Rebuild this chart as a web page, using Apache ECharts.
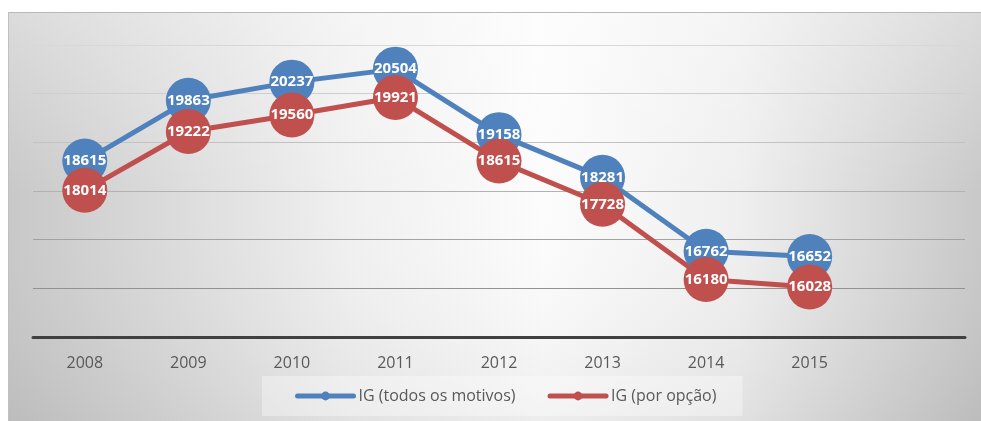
<!DOCTYPE html>
<html lang="pt">
	<head>
		<meta charset="UTF-8" />
		<title>IG</title>
		<script src="https://cdn.jsdelivr.net/npm/echarts@6/dist/echarts.min.js"></script>
		<style>
			* {
				margin: 0;
				padding: 0;
			}
			html,
			body {
				height: 100%;
				background: #fff;
			}
		</style>
	</head>
	<body>
		<div id="main" style="width:981px;height:421px;"></div>

		<script type="text/javascript">
			// dados
			var anos = ["2008", "2009", "2010", "2011", "2012", "2013", "2014", "2015", ""];
			var igTodos = [18615, 19863, 20237, 20504, 19158, 18281, 16762, 16652];
			var igOpcao = [18014, 19222, 19560, 19921, 18615, 17728, 16180, 16028];
			var nomes = ["IG (todos os motivos)", "IG (por opção)"];

			var fonte = "'Open Sans', 'Noto Sans', sans-serif";

			function serie(nome, dados, cor) {
				return {
					name: nome,
					type: "line",
					data: dados,
					symbol: "circle",
					symbolSize: 45,
					lineStyle: { width: 5, color: cor },
					itemStyle: { color: cor },
					label: {
						show: true,
						position: "inside",
						color: "#fff",
						fontWeight: "bold",
						fontSize: 15,
						fontFamily: fonte
					},
					emphasis: { disabled: true }
				};
			}

			var myChart = echarts.init(document.getElementById("main"));
			var option = {
				animation: false,
				color: ["#4f81bd", "#c0504d"],
				graphic: [
					{
						type: "rect",
						z: -10,
						shape: { x: 8, y: 12, width: 973, height: 409 },
						style: {
							fill: {
								type: "linear",
								x: 0,
								y: 0,
								x2: 1,
								y2: 0,
								colorStops: [
									{ offset: 0, color: "#c8c8c8" },
									{ offset: 0.35, color: "#f0f0f0" },
									{ offset: 0.55, color: "#fcfcfc" },
									{ offset: 0.75, color: "#efefef" },
									{ offset: 1, color: "#c8c8c8" }
								]
							}
						}
					},
					{
						type: "rect",
						z: -9,
						shape: { x: 8, y: 12, width: 973, height: 409 },
						style: {
							fill: {
								type: "linear",
								x: 0,
								y: 0,
								x2: 0,
								y2: 1,
								colorStops: [
									{ offset: 0, color: "rgba(255,255,255,0.35)" },
									{ offset: 0.45, color: "rgba(255,255,255,0)" },
									{ offset: 1, color: "rgba(0,0,0,0.06)" }
								]
							}
						}
					},
					{
						type: "line",
						z: -8,
						shape: { x1: 8, y1: 12.5, x2: 981, y2: 12.5 },
						style: { stroke: "#b8b8b8", lineWidth: 1 }
					},
					{
						type: "line",
						z: -8,
						shape: { x1: 8.5, y1: 12, x2: 8.5, y2: 421 },
						style: { stroke: "#c0c0c0", lineWidth: 1 }
					}
				],
				grid: {
					left: 33,
					right: 16,
					top: 45,
					bottom: 84
				},
				legend: {
					data: nomes,
					left: 262,
					top: 376,
					padding: [12, 26, 12, 33],
					itemGap: 32,
					itemWidth: 56,
					itemHeight: 11,
					backgroundColor: "rgba(255,255,255,0.35)",
					lineStyle: { width: 5, cap: "round" },
					textStyle: { color: "#595959", fontSize: 16, fontFamily: fonte }
				},
				xAxis: {
					type: "category",
					data: anos,
					boundaryGap: true,
					axisLine: { lineStyle: { color: "#404040", width: 3 } },
					axisTick: { show: false },
					axisLabel: { color: "#595959", fontSize: 16, fontFamily: fonte, margin: 18 },
					splitLine: { show: false }
				},
				yAxis: {
					type: "value",
					min: 15000,
					max: 21000,
					interval: 1000,
					axisLine: { show: false },
					axisTick: { show: false },
					axisLabel: { show: false },
					splitLine: {
						lineStyle: {
							width: 1.2,
							color: ["#909090", "#929292", "#a2a2a2", "#b2b2b2", "#c2c2c2", "#cecece", "#d8d8d8"]
						}
					}
				},
				series: [serie(nomes[0], igTodos, "#4f81bd"), serie(nomes[1], igOpcao, "#c0504d")]
			};
			myChart.setOption(option);
		</script>
	</body>
</html>
